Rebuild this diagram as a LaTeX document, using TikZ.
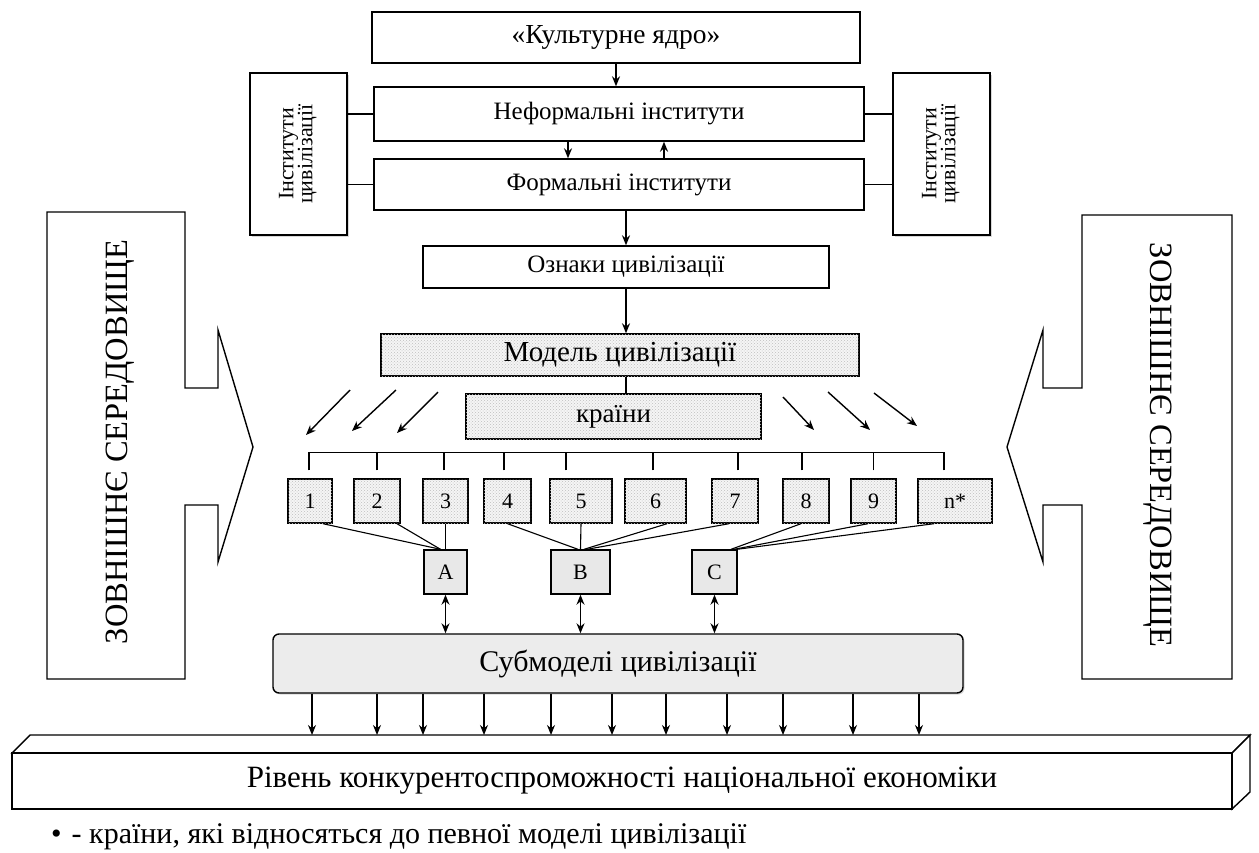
\documentclass[tikz,border=0pt]{standalone}
\usepackage{fontspec}
\setmainfont{Liberation Serif}
\usetikzlibrary{arrows.meta,patterns,shadows,calc}
\begin{document}
\begin{tikzpicture}[x=1pt,y=-1pt,
  ln/.style={line width=1.4pt},
  box/.style={draw, line width=1.4pt, inner sep=0pt, fill=white},
  dotbox/.style={box, fill=gray!8, postaction={pattern=crosshatch dots, pattern color=gray!50}},
  greybox/.style={box, fill=gray!18},
  arr/.style={line width=1.4pt, -{Stealth[length=10pt,width=8pt]}},
  darr/.style={line width=1.4pt, {Stealth[length=10pt,width=8pt]}-{Stealth[length=10pt,width=8pt]}},
  fmid/.style={font=\fontsize{25}{27}\selectfont},
  fbig/.style={font=\fontsize{29}{31}\selectfont},
  fnum/.style={font=\fontsize{22}{24}\selectfont}]
\useasboundingbox[fill=white] (0,0) rectangle (1259,852);

% top chain
\node[box, font=\fontsize{27.5}{29}\selectfont, minimum width=488, minimum height=51] (core) at (616,37.5) {«Культурне ядро»};
\node[box, fmid, minimum width=490, minimum height=54] (nef) at (619,114) {Неформальні інститути};
\node[box, fmid, minimum width=490, minimum height=51] (form) at (619,184.5) {Формальні інститути};
\node[box, fmid, minimum width=406, minimum height=42] (ozn) at (626,267) {Ознаки цивілізації};
\node[dotbox, fbig, minimum width=478, minimum height=42] (model) at (620,355) {Модель цивілізації};
\node[dotbox, font=\fontsize{27}{29}\selectfont, minimum width=295, minimum height=45] (kr) at (613.5,416.5) {країни};

% side institution boxes
\node[box, font=\fontsize{22}{22}\selectfont, minimum width=97, minimum height=162, drop shadow={shadow xshift=1.5pt, shadow yshift=-1.5pt, fill=gray!60}] (sideL) at (298.5,154)
  {\rotatebox{90}{\begin{tabular}{@{}c@{}}Інститути\\[-3pt]цивілізації\end{tabular}}};
\node[box, font=\fontsize{22}{22}\selectfont, minimum width=97, minimum height=162, drop shadow={shadow xshift=1.5pt, shadow yshift=-1.5pt, fill=gray!60}] (sideR) at (941.5,154)
  {\rotatebox{90}{\begin{tabular}{@{}c@{}}Інститути\\[-3pt]цивілізації\end{tabular}}};

\draw[ln] (sideL.east |- nef.west) -- (nef.west);
\draw[ln] (sideL.east |- form.west) -- (form.west);
\draw[ln] (nef.east) -- (sideR.west |- nef.east);
\draw[ln] (form.east) -- (sideR.west |- form.east);

\draw[arr] (core.south) -- (core.south |- nef.north);
\draw[arr] ([xshift=-51pt]nef.south) -- ([xshift=-51pt]form.north);
\draw[arr] ([xshift=45pt]form.north) -- ([xshift=45pt]nef.south);
\draw[arr] (form.south -| ozn.north) -- (ozn.north);
\draw[arr] (ozn.south) -- (ozn.south |- model.north);
\draw[ln] (model.south -| ozn.south) -- (kr.north -| ozn.south);

% diagonal arrows
\coordinate (l1s) at (350,390); \coordinate (l1e) at (306,435);
\coordinate (l2s) at (396,390); \coordinate (l2e) at (352,431);
\coordinate (l3s) at (438,392); \coordinate (l3e) at (397,433);
\coordinate (r1s) at (783,397); \coordinate (r1e) at (814,430);
\coordinate (r2s) at (828,392); \coordinate (r2e) at (870,430);
\coordinate (r3s) at (874,393); \coordinate (r3e) at (917,426);
\foreach \p in {l1,l2,l3,r1,r2,r3} \draw[arr] (\p s) -- (\p e);

% numbered boxes
\foreach \n/\cx/\w/\t in {b1/310/44/1, b2/377/46/2, b3/445.5/45/3, b4/507.5/47/4, b5/581/62/5, b6/655.5/61/6, b7/735/46/7, b8/806/46/8, b9/873.5/45/9, bn/955/74/n*}
  \node[dotbox, fnum, minimum width=\w, minimum height=44] (\n) at (\cx,501) {\t};
\foreach \n/\dx in {b1/-1, b2/0, b3/-1.5, b4/-3.5, b5/-15, b6/-2.5, b7/3, b8/-4, b9/0, bn/-11}
  \draw[ln] ($(\n.north)+(\dx,-8)$) -- ++(0,-18);
\draw[ln] ($(b1.north)+(-1.7,-26)$) -- ($(bn.north)+(-10.3,-26)$);

% A B C
\node[greybox, fnum, minimum width=43, minimum height=44] (A) at (445.5,572) {A};
\node[greybox, fnum, minimum width=59, minimum height=44] (B) at (580.5,572) {B};
\node[greybox, fnum, minimum width=45, minimum height=44] (C) at (714.5,572) {C};

\draw[line width=1.1pt] ($(b1.south)+(13,0)$) -- ($(A.north)+(-5,0)$);
\draw[line width=1.1pt] ($(b2.south)+(20,0)$) -- ($(A.north)+(-5,0)$);
\draw[line width=1.1pt] (b3.south) -- (A.north);
\draw[line width=1.1pt] (b4.south) -- ($(B.north)+(-2.5,0)$);
\draw[line width=1.1pt] (b5.south) -- (B.north);
\draw[line width=1.1pt] ($(b6.south)+(11.5,0)$) -- ($(B.north)+(3.5,0)$);
\draw[line width=1.1pt] ($(b7.south)+(-6,0)$) -- ($(B.north)+(6.5,0)$);
\draw[line width=1.1pt] ($(b8.south)+(-5,0)$) -- ($(C.north)+(16.5,0)$);
\draw[line width=1.1pt] ($(b9.south)+(-5.5,0)$) -- ($(C.north)+(19.5,0)$);
\draw[line width=1.1pt] ($(bn.south)+(-21,0)$) -- ($(C.north)+(22.5,0)$);

% submodels
\node[box, font=\fontsize{30}{32}\selectfont, fill=gray!15, rounded corners=6pt, minimum width=690, minimum height=59, drop shadow={shadow xshift=1.5pt, shadow yshift=-1.5pt, fill=gray!60}] (sub) at (618,663.5) {Субмоделі цивілізації};
\draw[darr] (A.south) -- (A.south |- sub.north);
\draw[darr] (B.south) -- (B.south |- sub.north);
\draw[darr] (C.south) -- (C.south |- sub.north);

% bottom bar
\coordinate (bt) at (0,735);
\draw[ln, fill=white] (12,753) -- (30,735) -- (1250,735) -- (1232,753) -- cycle;
\draw[ln, fill=white] (1232,753) -- (1250,735) -- (1250,792) -- (1232,809) -- cycle;
\node[box, font=\fontsize{31}{33}\selectfont, minimum width=1220, minimum height=56] (bar) at (622,781) {Рівень конкурентоспроможності національної економіки};
\foreach \x in {312,377,423,484,551,612,666,727,783,853,919}
  \draw[arr] (sub.south -| \x,0) -- (bt -| \x,0);

% outer environment arrows
\draw[ln] (47,212) -- (185,212) -- (185,388) -- (218,388) -- (218,330) -- (253,447) -- (218,562) -- (218,505) -- (185,505) -- (185,679) -- (47,679) -- cycle;
\node[rotate=90, font=\fontsize{32.5}{34}\selectfont] (envL) at (120,442) {ЗОВНІШНЄ СЕРЕДОВИЩЕ};
\draw[ln] (1232,215) -- (1082,215) -- (1082,388) -- (1043,388) -- (1043,330) -- (1007,447) -- (1043,562) -- (1043,505) -- (1082,505) -- (1082,679) -- (1232,679) -- cycle;
\node[rotate=-90, font=\fontsize{32.5}{34}\selectfont] (envR) at (1158,445) {ЗОВНІШНЄ СЕРЕДОВИЩЕ};

% legend
\node[anchor=west, font=\fontsize{30}{32}\selectfont, inner sep=0pt] (legend) at (51,837) {•\hspace{10pt}- країни, які відносяться до певної моделі цивілізації};
\end{tikzpicture}
\end{document}
